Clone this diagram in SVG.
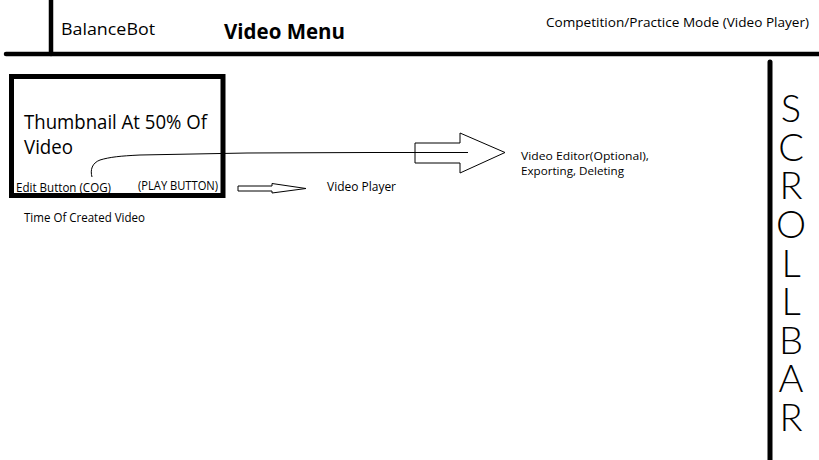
<svg xmlns="http://www.w3.org/2000/svg" width="819" height="460" viewBox="0 0 819 460">
<style>
  .t { font-family: "Open Sans", "Liberation Sans", sans-serif; fill: #000; }
  .thick { stroke: #000; fill: none; stroke-linecap: round; }
  .thin { stroke: #000; stroke-width: 1; fill: none; }
  .sb { font-family: Lato, "Open Sans", "DejaVu Sans", sans-serif; font-weight: 300; fill: #000; writing-mode: vertical-rl; text-orientation: upright; }
</style>
<rect width="819" height="460" fill="#fff"/>
<g id="header">
  <line class="thick" x1="6" y1="54" x2="819" y2="54" stroke-width="4.5"/>
  <line class="thick" x1="51" y1="0" x2="51" y2="54" stroke-width="4.5" stroke-linecap="butt"/>
  <text class="t" x="61" y="35" font-size="16" textLength="94" lengthAdjust="spacingAndGlyphs">BalanceBot</text>
  <text class="t" x="224" y="39" font-size="21" font-weight="bold" textLength="121" lengthAdjust="spacingAndGlyphs">Video Menu</text>
  <text class="t" x="546" y="27" font-size="13" textLength="263" lengthAdjust="spacingAndGlyphs">Competition/Practice Mode (Video Player)</text>
</g>
<g id="thumbnail">
  <rect x="11.5" y="76.5" width="211.5" height="119" fill="none" stroke="#000" stroke-width="5"/>
  <text class="t" x="24" y="129" font-size="20" textLength="183" lengthAdjust="spacingAndGlyphs">Thumbnail At 50% Of</text>
  <text class="t" x="24" y="154" font-size="20" textLength="49" lengthAdjust="spacingAndGlyphs">Video</text>
  <text class="t" x="16" y="192" font-size="12" textLength="95" lengthAdjust="spacingAndGlyphs">Edit Button (COG)</text>
  <text class="t" x="138" y="190" font-size="12" textLength="80" lengthAdjust="spacingAndGlyphs">(PLAY BUTTON)</text>
</g>
<g id="time-label">
  <text class="t" x="24" y="222" font-size="12" textLength="121" lengthAdjust="spacingAndGlyphs">Time Of Created Video</text>
</g>
<g id="video-player">
  <text class="t" x="327" y="191" font-size="12" textLength="69" lengthAdjust="spacingAndGlyphs">Video Player</text>
</g>
<g id="video-editor">
  <text class="t" x="521" y="160" font-size="11" textLength="128" lengthAdjust="spacingAndGlyphs">Video Editor(Optional),</text>
  <text class="t" x="521" y="175" font-size="11" textLength="103" lengthAdjust="spacingAndGlyphs">Exporting, Deleting</text>
</g>
<g id="connectors">
  <path class="thin" d="M92,177 C90,170 92,163 100,160 C110,157 120,156 140,155 L247,153 L370,152.5 L468,152.5"/>
  <polygon class="thin" points="415,143 460,143 460,133 505,152.5 460,173 460,163 415,163"/>
  <polygon class="thin" points="238,186 272,186 272,183.5 306,188.5 272,193 272,191 238,191"/>
</g>
<g id="scrollbar">
  <line class="thick" x1="770" y1="62" x2="770" y2="460" stroke-width="5" stroke-linecap="butt"/>
  <text class="sb" x="791" y="84" font-size="38" textLength="355" lengthAdjust="spacing">SCROLLBAR</text>
</g>
</svg>
